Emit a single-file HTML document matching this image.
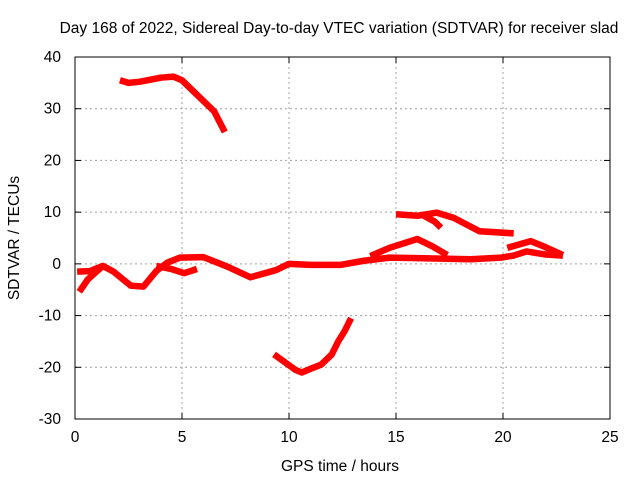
<!DOCTYPE html>
<html><head><meta charset="utf-8"><style>
body{margin:0;background:#fff}
svg{font-family:"Liberation Sans",sans-serif;font-size:15.5px}
</style></head><body>
<svg id="c" width="640" height="480">
<text x="339" y="33" text-anchor="middle">Day 168 of 2022, Sidereal Day-to-day VTEC variation (SDTVAR) for receiver slad</text>
<text x="340" y="471" text-anchor="middle">GPS time / hours</text>
<text x="0" y="0" text-anchor="middle" transform="translate(19,238) rotate(-90)">SDTVAR / TECUs</text>
<g id="grid"></g>
<g id="ticks"></g>
<g id="series"></g>
<rect x="75" y="57" width="535" height="362" fill="none" stroke="#000" stroke-width="1"/>
</svg>
<script>
const xTicks=[0,5,10,15,20,25];
const yTicks=[-30,-20,-10,0,10,20,30,40];
const sTop=[[2.1,35.5],[2.5,35],[3,35.2],[3.5,35.6],[4,36],[4.6,36.2],[5,35.5],[5.5,33.5],[6,31.5],[6.5,29.5],[7,25.5]];
const sBottom=[[9.3,-17.5],[9.8,-19],[10.3,-20.5],[10.6,-21],[11,-20.3],[11.5,-19.5],[12,-17.5],[12.3,-15],[12.6,-13],[12.9,-10.5]];
const sMain=[[0.2,-5.4],[0.6,-3],[1.3,-0.4],[1.8,-1.5],[2.6,-4.2],[3.2,-4.4],[3.8,-1.4],[4.3,0.2],[4.9,1.2],[6,1.3],[7.1,-0.5],[8.2,-2.6],[9.4,-1.2],[10,0],[11,-0.2],[12.4,-0.2],[13.5,0.6],[14.7,1.2],[16,1.1],[17.1,1.0],[18.5,0.9],[19.9,1.2],[20.5,1.6],[21.1,2.4],[22,1.8],[22.8,1.6]];
const sStart=[[0.1,-1.5],[0.7,-1.4],[1.3,-0.4]];
const sLoop=[[3.8,-0.4],[4.5,-1],[5.1,-1.8],[5.7,-1]];
const sHump1=[[13.8,1.5],[14.7,3.1],[16,4.8],[16.7,3.4],[17.4,1.7]];
const sHump2=[[20.2,3.1],[21.3,4.4],[22,3.2],[22.8,1.7]];
const sUpper=[[15,9.6],[16,9.3],[16.9,9.9],[17.7,8.9],[18.9,6.3],[20.5,5.9]];
const sBranch=[[16.3,9.3],[16.8,8.2],[17.1,7]];
const allSeries=[sTop,sBottom,sMain,sStart,sLoop,sHump1,sHump2,sUpper,sBranch];
const names=['series-top','series-bottom','series-main','series-start','series-loop','series-hump1','series-hump2','series-upper','series-branch'];
const X0=75,X1=610,Y0=419,Y1=57,xmin=0,xmax=25,ymin=-30,ymax=40;
const px=v=>X0+(v-xmin)/(xmax-xmin)*(X1-X0);
const py=v=>Y0-(v-ymin)/(ymax-ymin)*(Y0-Y1);
const NS='http://www.w3.org/2000/svg';
const grid=document.getElementById('grid'),ticks=document.getElementById('ticks'),ser=document.getElementById('series');
function mk(tag,attrs,parent){const e=document.createElementNS(NS,tag);for(const k in attrs)e.setAttribute(k,attrs[k]);parent.appendChild(e);return e;}
xTicks.forEach(t=>{const x=px(t);
 if(t>xmin&&t<xmax){const g=mk('line',{x1:x,x2:x,y1:Y0,y2:Y1,stroke:'#a0a0a0','stroke-dasharray':'2,3'},grid);
 
 }
 mk('line',{x1:x,x2:x,y1:Y0,y2:Y0-6,stroke:'#000'},ticks);mk('line',{x1:x,x2:x,y1:Y1,y2:Y1+6,stroke:'#000'},ticks);
 const l=mk('text',{x:x,y:Y0+23,'text-anchor':'middle'},ticks);l.textContent=t;
 
 });
yTicks.forEach(t=>{const y=py(t);
 if(t>ymin&&t<ymax){const g=mk('line',{x1:X0,x2:X1,y1:y,y2:y,stroke:'#a0a0a0','stroke-dasharray':'2,3'},grid);
 
 }
 mk('line',{x1:X0,x2:X0+6,y1:y,y2:y,stroke:'#000'},ticks);mk('line',{x1:X1,x2:X1-6,y1:y,y2:y,stroke:'#000'},ticks);
 const l=mk('text',{x:X0-14,y:y+5,'text-anchor':'end'},ticks);l.textContent=t;
 
 });
allSeries.forEach((s,i)=>{const p=mk('polyline',{points:s.map(d=>px(d[0])+','+py(d[1])).join(' '),fill:'none',stroke:'#ff0000','stroke-width':6.5,'stroke-linejoin':'round'},ser);
 
 });
</script>
</body></html>
